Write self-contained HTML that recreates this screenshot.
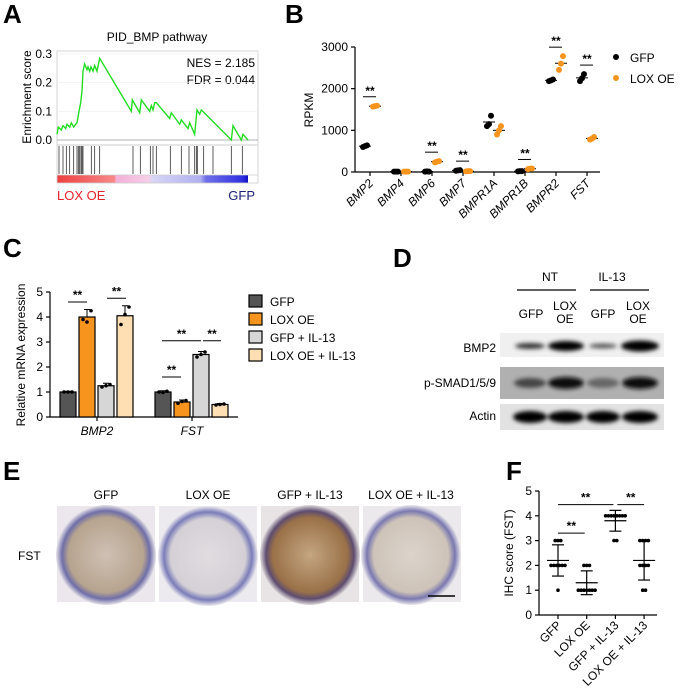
<!DOCTYPE html>
<html><head><meta charset="utf-8">
<style>
body{margin:0;background:#fff;}
svg{display:block;font-family:"Liberation Sans",Arial,sans-serif;}
.pl{font-size:26px;font-weight:bold;}
.t{font-size:12px;fill:#000;}
.ax{stroke:#000;stroke-width:1.2;fill:none;}
</style></head>
<body>
<svg id="fig" width="680" height="700" viewBox="0 0 680 700">
<text class="pl" x="3" y="23">A</text>
<text class="pl" x="285" y="23">B</text>
<text class="pl" x="3" y="257">C</text>
<text class="pl" x="393" y="267">D</text>
<text class="pl" x="3" y="480">E</text>
<text class="pl" x="506" y="480">F</text>

<g id="pa">
<text class="t" x="157" y="41" text-anchor="middle" font-size="12.5">PID_BMP pathway</text>
<text class="t" x="255" y="67" text-anchor="end" font-size="13">NES = 2.185</text>
<text class="t" x="255" y="84" text-anchor="end" font-size="13">FDR = 0.044</text>
<text class="t" transform="translate(31,97) rotate(-90)" text-anchor="middle" font-size="13">Enrichment score</text>
<text x="57" y="200" font-size="13" fill="#e8202a">LOX OE</text>
<text x="255" y="200" font-size="13" fill="#1b1f7a" text-anchor="end">GFP</text>
<defs><linearGradient id="rb" x1="0" x2="1">
<stop offset="0" stop-color="#ee4040"/><stop offset="0.3" stop-color="#f78888"/><stop offset="0.31" stop-color="#f4b0d8"/><stop offset="0.48" stop-color="#f6cfe8"/><stop offset="0.5" stop-color="#d8d6f6"/><stop offset="0.75" stop-color="#b0b0f0"/><stop offset="0.78" stop-color="#7070ea"/><stop offset="0.97" stop-color="#3030e0"/><stop offset="1" stop-color="#1010c0"/></linearGradient></defs>
<rect x="57" y="175" width="191" height="8" fill="url(#rb)"/>
<rect x="57" y="51" width="201" height="132" fill="none" stroke="#ccc" stroke-width="0.8"/>
<line x1="57" x2="258" y1="145" y2="145" stroke="#bbb" stroke-width="0.8"/>
<line x1="57" x2="258" y1="175" y2="175" stroke="#ccc" stroke-width="0.8"/>
</g>

<text class="t" transform="translate(313,110) rotate(-90)" text-anchor="middle" font-size="13">RPKM</text>
<circle cx="616" cy="57" r="3" fill="#000"/>
<text class="t" x="630" y="62" font-size="13">GFP</text>
<circle cx="616" cy="78" r="3" fill="#f7941d"/>
<text class="t" x="630" y="83" font-size="13">LOX OE</text>

<text class="t" transform="translate(25,355) rotate(-90)" text-anchor="middle" font-size="13">Relative mRNA expression</text>

<g>
<defs>
<filter id="blur" x="-20%" y="-50%" width="140%" height="200%"><feGaussianBlur stdDeviation="2"/></filter>
</defs>
<text class="t" x="550" y="281" text-anchor="middle" font-size="12.5">NT</text>
<line x1="517" x2="576" y1="290" y2="290" stroke="#000" stroke-width="1.2"/>
<text class="t" x="612" y="281" text-anchor="middle" font-size="12.5">IL-13</text>
<line x1="590" x2="649" y1="290" y2="290" stroke="#000" stroke-width="1.2"/>
<text class="t" x="531" y="318" text-anchor="middle" font-size="12.5">GFP</text>
<text class="t" x="565" y="310" text-anchor="middle" font-size="12.5">LOX</text>
<text class="t" x="565" y="323" text-anchor="middle" font-size="12.5">OE</text>
<text class="t" x="603" y="318" text-anchor="middle" font-size="12.5">GFP</text>
<text class="t" x="638" y="310" text-anchor="middle" font-size="12.5">LOX</text>
<text class="t" x="638" y="323" text-anchor="middle" font-size="12.5">OE</text>
<text class="t" x="496" y="352" text-anchor="end" font-size="12.5">BMP2</text>
<text class="t" x="496" y="387" text-anchor="end" font-size="12.5">p-SMAD1/5/9</text>
<text class="t" x="496" y="420" text-anchor="end" font-size="12.5">Actin</text>
<rect x="500" y="333" width="164" height="24" fill="#f0f0f0"/>
<rect x="500" y="367" width="164" height="32" fill="#b0b0b0"/>
<rect x="500" y="404" width="164" height="26" fill="#e2e2e2"/>
<g filter="url(#blur)">
<ellipse cx="530" cy="346" rx="15" ry="3" fill="#333"/>
<ellipse cx="566" cy="346" rx="18" ry="5" fill="#000"/>
<ellipse cx="603" cy="346" rx="14" ry="2.5" fill="#555"/>
<ellipse cx="640" cy="346" rx="19" ry="5.5" fill="#000"/>
<ellipse cx="530" cy="383" rx="16" ry="5" fill="#444"/>
<ellipse cx="566" cy="383" rx="18" ry="6" fill="#111"/>
<ellipse cx="603" cy="383" rx="16" ry="5" fill="#666"/>
<ellipse cx="640" cy="383" rx="18" ry="6" fill="#111"/>
<ellipse cx="530" cy="417" rx="17" ry="6" fill="#000"/>
<ellipse cx="566" cy="417" rx="18" ry="6" fill="#000"/>
<ellipse cx="603" cy="417" rx="17" ry="6" fill="#000"/>
<ellipse cx="640" cy="417" rx="18" ry="6" fill="#000"/>
</g>
</g>

<g>
<defs>
<radialGradient id="g1"><stop offset="0" stop-color="#cfc0b4"/><stop offset="0.75" stop-color="#b7a48f"/><stop offset="0.88" stop-color="#6f6ea8"/><stop offset="1" stop-color="#e6e2e8"/></radialGradient>
<radialGradient id="g2"><stop offset="0" stop-color="#e0dce0"/><stop offset="0.75" stop-color="#d4d0d6"/><stop offset="0.88" stop-color="#7a7cb8"/><stop offset="1" stop-color="#eceaee"/></radialGradient>
<radialGradient id="g3"><stop offset="0" stop-color="#c4a682"/><stop offset="0.75" stop-color="#9a7148"/><stop offset="0.88" stop-color="#5e4c70"/><stop offset="1" stop-color="#e0dcdc"/></radialGradient>
<radialGradient id="g4"><stop offset="0" stop-color="#dcd4cc"/><stop offset="0.75" stop-color="#cdc3b8"/><stop offset="0.88" stop-color="#7a78b0"/><stop offset="1" stop-color="#ebe8ec"/></radialGradient>
</defs>
<text class="t" x="106" y="499" text-anchor="middle" font-size="13">GFP</text>
<text class="t" x="208" y="499" text-anchor="middle" font-size="13">LOX OE</text>
<text class="t" x="310" y="499" text-anchor="middle" font-size="13">GFP + IL-13</text>
<text class="t" x="411" y="499" text-anchor="middle" font-size="13">LOX OE + IL-13</text>
<text class="t" x="18" y="560" font-size="13">FST</text>
<rect x="57" y="506" width="98" height="96" fill="#ebe7ec"/>
<circle cx="106" cy="555" r="50" fill="url(#g1)"/>
<rect x="159" y="506" width="98" height="96" fill="#eceaee"/>
<circle cx="208" cy="556" r="50" fill="url(#g2)"/>
<rect x="261" y="506" width="98" height="96" fill="#e8e4e6"/>
<circle cx="310" cy="555" r="50" fill="url(#g3)"/>
<rect x="363" y="506" width="98" height="96" fill="#ece9ed"/>
<circle cx="411" cy="555" r="50" fill="url(#g4)"/>
<line x1="428" x2="455" y1="596" y2="596" stroke="#000" stroke-width="1.5"/>
</g>

<text class="t" transform="translate(513,553) rotate(-90)" text-anchor="middle" font-size="13">IHC score (FST)</text>

<g id="dyn"></g>
</svg>
<script>
const gseaRank=[172,176,185,190,198,202,210,215,222,228,232,238,243,247,250,255,262,265,270,274,280,285,292,300,395,398,420,425,450,455,460,465,470,510,515,540,545,565,570,585,592,600,605,695,700,725,730,745];
const gseaES=[.02,.045,.035,.05,.04,.055,.045,.06,.045,.055,.06,.1,.13,.17,.24,.265,.245,.255,.24,.255,.24,.26,.24,.285,.10,.14,.095,.14,.10,.12,.105,.13,.13,.075,.095,.055,.07,.04,.06,.02,.105,.09,.105,0,.05,0,.02,0];
const gseaHits=[178,190,200,210,222,232,236,240,244,247,250,275,285,300,400,422,452,460,470,512,545,568,585,590,593,612,640,695,728];
const esTicks=[0,0.1,0.2,0.3];
const genesB=["BMP2","BMP4","BMP6","BMP7","BMPR1A","BMPR1B","BMPR2","FST"];
const gfpB=[[600,620,640],[10,10,10],[10,15,10],[30,40,45],[1100,1150,1350],[15,20,20],[2180,2200,2220],[2180,2250,2350]];
const loxB=[[1570,1580,1590],[10,10,10],[230,250,260],[15,20,20],[900,1000,1100],[70,80,85],[2450,2600,2780],[780,800,840]];
const sigB=[0,2,3,5,6,7];
const rpkmTicks=[0,1000,2000,3000];
const genesC=["BMP2","FST"];
const condC=["GFP","LOX OE","GFP + IL-13","LOX OE + IL-13"];
const meanBMP2=[1,4,1.25,4.05];
const meanFST=[1,0.6,2.5,0.5];
const sdBMP2=[0.03,0.3,0.1,0.4];
const sdFST=[0.05,0.08,0.12,0.04];
const ptsBMP2=[[1,1,1],[3.9,3.8,4.25],[1.2,1.25,1.3],[3.7,4.1,4.4]];
const ptsFST=[[1,0.98,1.03],[0.55,0.62,0.66],[2.4,2.5,2.6],[0.48,0.5,0.52]];
const mrnaTicks=[0,1,2,3,4,5];
const groupsF=["GFP","LOX OE","GFP + IL-13","LOX OE + IL-13"];
const scoresF=[[3,3,3,2,2,2,2,2,2,1],[2,2,2,1,1,1,1,1,1,1],[4,4,4,4,4,4,4,4,3,3],[3,3,3,3,2,2,2,2,1,1]];
const meanF=[2.2,1.3,3.8,2.2];
const sdF=[0.63,0.48,0.42,0.79];
const ihcTicks=[0,1,2,3,4,5];

const NS="http://www.w3.org/2000/svg";
const root=document.getElementById('dyn');
function mk(tag,attrs,name,txt){
  const el=document.createElementNS(NS,tag);
  for(const k in attrs) el.setAttribute(k,attrs[k]);
  
  
  if(txt!==undefined) el.textContent=txt;
  root.appendChild(el);
  return el;
}
const axA=x=>57+(x-172)/(745-172)*191;
const ayA=v=>140-v*286.7;
esTicks.forEach(t=>{
  mk('line',{x1:57,x2:258,y1:ayA(t),y2:ayA(t),stroke:'#eee','stroke-width':0.6},'es-gridline');
  mk('text',{x:52,y:ayA(t)+4,'text-anchor':'end','font-size':12.5,class:'t'},'es-tick-label',t.toFixed(1));
});
mk('line',{x1:57,x2:258,y1:ayA(0),y2:ayA(0),stroke:'#999','stroke-width':0.8},'es-zero-line');
mk('polyline',{points:gseaRank.map((r,i)=>axA(r)+','+ayA(gseaES[i])).join(' '),fill:'none',stroke:'#22dd22','stroke-width':1.4},'es-curve');
gseaHits.forEach(h=>{
  mk('line',{x1:axA(h),x2:axA(h),y1:146,y2:174,stroke:'#333','stroke-width':0.8},'hit-line');
});
const xB=i=>370+i*31;
const yB=v=>172-v*125/3000;
mk('line',{x1:355,x2:355,y1:yB(3000),y2:yB(0),class:'ax'},'y-axis-b');
mk('line',{x1:355,x2:600,y1:yB(0),y2:yB(0),class:'ax'},'x-axis-b');
rpkmTicks.forEach(t=>{
  mk('line',{x1:351,x2:355,y1:yB(t),y2:yB(t),class:'ax'},'y-tick-b');
  mk('text',{x:348,y:yB(t)+4,'text-anchor':'end','font-size':12.5,class:'t'},'y-tick-label-b',t);
});
const mean=a=>a.reduce((s,v)=>s+v,0)/a.length;
genesB.forEach((g,i)=>{
  const x=xB(i);
  mk('line',{x1:x,x2:x,y1:yB(0),y2:yB(0)+4,class:'ax'},'x-tick-b');
  mk('text',{transform:`translate(${x+4},${yB(0)+12}) rotate(-45)`,'text-anchor':'end','font-size':12.5,'font-style':'italic',class:'t'},'x-tick-label-b',g);
  [[gfpB[i],'#000',-5],[loxB[i],'#f7941d',5]].forEach(([arr,c,dx])=>{
    const cx=x+dx;const m=mean(arr);
    mk('line',{x1:cx-6,x2:cx+6,y1:yB(m),y2:yB(m),stroke:'#000','stroke-width':1},'mean-line-b');
    arr.forEach((v,k)=>mk('circle',{cx:cx+(k-1)*2,cy:yB(v),r:3,fill:c},'point-b'));
  });
  if(sigB.includes(i)){
    const top=Math.max(...gfpB[i],...loxB[i]);
    const yy=yB(top)-9;
    mk('line',{x1:x-7,x2:x+6,y1:yy,y2:yy,stroke:'#000','stroke-width':1},'sig-bar-b');
    mk('text',{x:x,y:yy-2,'text-anchor':'middle','font-size':12,'font-weight':'bold',class:'t'},'sig-label-b','**');
  }
});
const yC=v=>417-v*25;
const colsC=['#555555','#f7941d','#d6d6d6','#fddfb3'];
const groupX=[60,155];
mk('line',{x1:50,x2:50,y1:yC(5),y2:yC(0),class:'ax'},'y-axis-c');
mk('line',{x1:50,x2:238,y1:yC(0),y2:yC(0),class:'ax'},'x-axis-c');
mrnaTicks.forEach(t=>{
  mk('line',{x1:46,x2:50,y1:yC(t),y2:yC(t),class:'ax'},'y-tick-c');
  mk('text',{x:43,y:yC(t)+4,'text-anchor':'end','font-size':12.5,class:'t'},'y-tick-label-c',t);
});
[[meanBMP2,sdBMP2,ptsBMP2],[meanFST,sdFST,ptsFST]].forEach(([m,sd,pts],gi)=>{
  const gx=groupX[gi];
  mk('line',{x1:gx+37,x2:gx+37,y1:yC(0),y2:yC(0)+4,class:'ax'},'x-tick-c');
  mk('text',{x:gx+37,y:yC(0)+18,'text-anchor':'middle','font-size':13,'font-style':'italic',class:'t'},'x-tick-label-c',genesC[gi]);
  m.forEach((v,i)=>{
    const x=gx+i*19;
    mk('rect',{x:x,y:yC(v),width:16,height:yC(0)-yC(v),fill:colsC[i],stroke:'#000','stroke-width':1.2},'bar-c');
    mk('line',{x1:x+8,x2:x+8,y1:yC(v),y2:yC(v+sd[i]),stroke:'#000','stroke-width':1},'error-bar-c');
    mk('line',{x1:x+5,x2:x+11,y1:yC(v+sd[i]),y2:yC(v+sd[i]),stroke:'#000','stroke-width':1},'error-cap-c');
    pts[i].forEach((p,k)=>mk('circle',{cx:x+4+k*4,cy:yC(p),r:1.8,fill:'#000'},'point-c'));
  });
});
function sig(x1,x2,y,name){
  mk('line',{x1:x1,x2:x2,y1:y,y2:y,stroke:'#000','stroke-width':1},name);
  mk('text',{x:(x1+x2)/2,y:y-3,'text-anchor':'middle','font-size':12,'font-weight':'bold',class:'t'},name+'-label','**');
}
sig(68,87,yC(4.6),'sig-c');
sig(107,126,yC(4.75),'sig-c');
sig(162,181,yC(1.6),'sig-c');
sig(162,201,yC(3.05),'sig-c');
sig(203,221,yC(3.05),'sig-c');
condC.forEach((c,i)=>{
  const y=301+i*18;
  mk('rect',{x:249,y:y-6,width:13,height:12,fill:colsC[i],stroke:'#000','stroke-width':1.2},'legend-swatch-c');
  mk('text',{x:270,y:y+5,'font-size':13,class:'t'},'legend-entry-c',c);
});
const xF=i=>558+i*28.7;
const yF=v=>615-v*24.8;
mk('line',{x1:539,x2:539,y1:yF(5),y2:yF(0),class:'ax'},'y-axis-f');
mk('line',{x1:539,x2:657,y1:yF(0),y2:yF(0),class:'ax'},'x-axis-f');
ihcTicks.forEach(t=>{
  mk('line',{x1:535,x2:539,y1:yF(t),y2:yF(t),class:'ax'},'y-tick-f');
  mk('text',{x:532,y:yF(t)+4,'text-anchor':'end','font-size':12.5,class:'t'},'y-tick-label-f',t);
});
groupsF.forEach((g,i)=>{
  const x=xF(i);
  mk('line',{x1:x,x2:x,y1:yF(0),y2:yF(0)+4,class:'ax'},'x-tick-f');
  mk('text',{transform:`translate(${x+4},${yF(0)+11}) rotate(-45)`,'text-anchor':'end','font-size':12.5,class:'t'},'x-tick-label-f',g);
  const cnt={};
  scoresF[i].forEach(v=>{cnt[v]=(cnt[v]||0)+1;});
  Object.keys(cnt).forEach(v=>{
    const n=cnt[v];
    for(let k=0;k<n;k++) mk('circle',{cx:x+(k-(n-1)/2)*2.8,cy:yF(+v),r:1.8,fill:'#000'},'point-f');
  });
  mk('line',{x1:x-11,x2:x+11,y1:yF(meanF[i]),y2:yF(meanF[i]),stroke:'#000','stroke-width':1.2},'mean-line-f');
  mk('line',{x1:x,x2:x,y1:yF(meanF[i]-sdF[i]),y2:yF(meanF[i]+sdF[i]),stroke:'#000','stroke-width':1.2},'sd-bar-f');
  mk('line',{x1:x-6,x2:x+6,y1:yF(meanF[i]+sdF[i]),y2:yF(meanF[i]+sdF[i]),stroke:'#000','stroke-width':1.2},'sd-cap-f');
  mk('line',{x1:x-6,x2:x+6,y1:yF(meanF[i]-sdF[i]),y2:yF(meanF[i]-sdF[i]),stroke:'#000','stroke-width':1.2},'sd-cap-f');
});
sig(xF(0),xF(1)-2,yF(3.3),'sig-f');
sig(xF(0),xF(2)-2,yF(4.45),'sig-f');
sig(xF(2)+2,xF(3),yF(4.45),'sig-f');
</script>
</body></html>
